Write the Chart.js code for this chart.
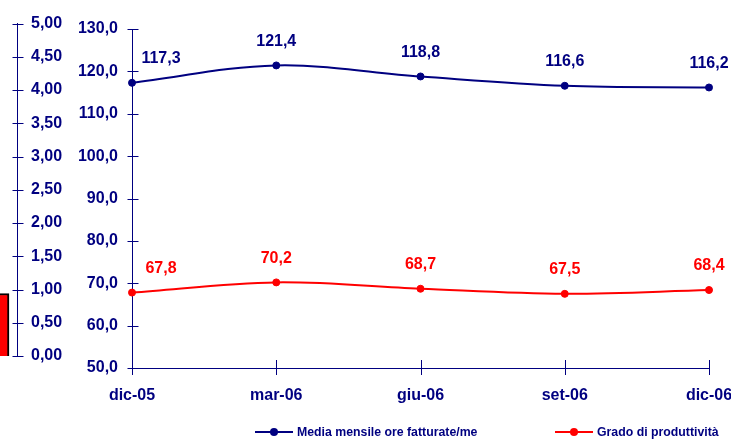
<!DOCTYPE html>
<html>
<head>
<meta charset="utf-8">
<script src="https://cdn.jsdelivr.net/npm/chart.js@4.4.1/dist/chart.umd.min.js"></script>
<style>
    html, body { margin: 0; padding: 0; background: #fff; }
    #wrap { position: relative; width: 731px; height: 440px; overflow: hidden; font-family: "Liberation Sans", Arial, sans-serif; }
    #side { position: absolute; left: -60px; top: 0; }
    #main { position: absolute; left: 0; top: 0; }
    .leg { position: absolute; top: 424px; height: 16px; line-height: 16px; font-size: 12.3px; font-weight: bold; color: #000080; white-space: nowrap; }
    .leg svg { position: absolute; left: 0; top: 3px; }
    .leg span { position: absolute; left: 42px; top: 0; }
</style>
</head>
<body>
<div id="wrap">
    <canvas id="side" width="160" height="440"></canvas>
    <canvas id="main" width="790" height="440"></canvas>
    <div id="legend"></div>
</div>
<script>
// data
const months = ["dic-05", "mar-06", "giu-06", "set-06", "dic-06"];
const hoursLabel = "Media mensile ore fatturate/me";
const hoursValues = [117.3, 121.4, 118.8, 116.6, 116.2];
const productivityLabel = "Grado di produttività";
const productivityValues = [67.8, 70.2, 68.7, 67.5, 68.4];
const sideLabels = [""];
const sideValues = [0.94];

const navy = "#000080";
const red = "#ff0000";
Chart.defaults.font.family = '"Liberation Sans", Arial, sans-serif';

// ticks that cross the axis line
const crossTicks = {
    id: "crossTicks",
    afterDraw(chart) {
        let ctx = chart.ctx;
        ctx.save();
        ctx.strokeStyle = navy;
        ctx.lineWidth = 1;
        ctx.beginPath();
        Object.values(chart.scales).forEach(s => {
            if (!s.options.display) return;
            s.ticks.forEach((t, i) => {
                let p = Math.round(s.getPixelForTick(i)) + 0.5;
                if (s.isHorizontal()) {
                    let y = s.top;
                    ctx.moveTo(p, y - 8);
                    ctx.lineTo(p, y + 7);
                } else {
                    let x = Math.round(s.position === "left" ? s.right : s.left) + 0.5;
                    ctx.moveTo(x - 5, p);
                    ctx.lineTo(x + 6, p);
                }
            });
        });
        ctx.stroke();
        ctx.restore();
    }
};

const pointLabels = {
    id: "pointLabels",
    afterDatasetsDraw(chart) {
        let ctx = chart.ctx;
        ctx.save();
        ctx.font = 'bold 16px "Liberation Sans", Arial, sans-serif';
        ctx.textAlign = "center";
        ctx.textBaseline = "middle";
        chart.data.datasets.forEach((ds, di) => {
            chart.getDatasetMeta(di).data.forEach((pt, i) => {
                ctx.fillStyle = ds.borderColor;
                ctx.fillText(ds.data[i].toFixed(1).replace(".", ","), pt.x + (i === 0 ? 29 : 0), pt.y - 24);
            });
        });
        ctx.restore();
    }
};

// left, partly cut chart
new Chart(document.getElementById("side"), {
    type: "bar",
    data: {
        labels: sideLabels,
        datasets: [{
            data: sideValues,
            backgroundColor: red,
            borderColor: "#000000",
            borderWidth: 2,
            barThickness: 61
        }]
    },
    options: {
        responsive: false,
        animation: false,
        layout: { padding: { top: 20, bottom: 84, left: 0, right: 0 } },
        plugins: { legend: { display: false }, tooltip: { enabled: false } },
        scales: {
            x: { display: false },
            y: {
                position: "right",
                min: 0,
                max: 5,
                grid: { display: false, drawTicks: false },
                border: { color: navy, width: 1 },
                ticks: {
                    stepSize: 0.5,
                    padding: 14,
                    color: navy,
                    font: { size: 16, weight: "bold" },
                    callback: v => v.toFixed(2).replace(".", ",")
                },
                afterFit: s => { s.width = 83; }
            }
        }
    },
    plugins: [crossTicks]
});

// main line chart
let mainChart = new Chart(document.getElementById("main"), {
    type: "line",
    data: {
        labels: months,
        datasets: [{
            label: hoursLabel,
            data: hoursValues,
            borderColor: navy,
            backgroundColor: navy,
            borderWidth: 2,
            pointRadius: 3.5,
            pointBorderWidth: 1,
            tension: 0.35,
            clip: false
        }, {
            label: productivityLabel,
            data: productivityValues,
            borderColor: red,
            backgroundColor: red,
            borderWidth: 2,
            pointRadius: 3.5,
            pointBorderWidth: 1,
            tension: 0.35,
            clip: false
        }]
    },
    options: {
        responsive: false,
        animation: false,
        layout: { padding: { top: 29, right: 81, left: 0, bottom: 0 } },
        plugins: { legend: { display: false }, tooltip: { enabled: false } },
        scales: {
            x: {
                offset: false,
                grid: { display: false, drawTicks: false },
                border: { color: navy, width: 1 },
                ticks: {
                    padding: 18,
                    color: navy,
                    maxRotation: 0,
                    autoSkip: false,
                    font: { size: 16, weight: "bold" }
                },
                afterFit: s => { s.height = 72; }
            },
            y: {
                min: 50,
                max: 130,
                grid: { display: false, drawTicks: false },
                border: { color: navy, width: 1 },
                ticks: {
                    stepSize: 10,
                    padding: 14,
                    color: navy,
                    font: { size: 16, weight: "bold" },
                    callback: v => v.toFixed(1).replace(".", ",")
                },
                afterFit: s => { s.width = 132; }
            }
        }
    },
    plugins: [crossTicks, pointLabels]
});

// legend
let legendLeft = [255, 555];
let legend = document.getElementById("legend");
mainChart.data.datasets.forEach((ds, i) => {
    let c = ds.borderColor;
    legend.innerHTML += `
        <div class="leg" style="left:${legendLeft[i]}px">
            <svg width="38" height="10"><line x1="0" y1="5" x2="38" y2="5" stroke="${c}" stroke-width="2"/><circle cx="19" cy="5" r="4" fill="${c}"/></svg>
            <span>${ds.label}</span>
        </div>`;
});
</script>
</body>
</html>
